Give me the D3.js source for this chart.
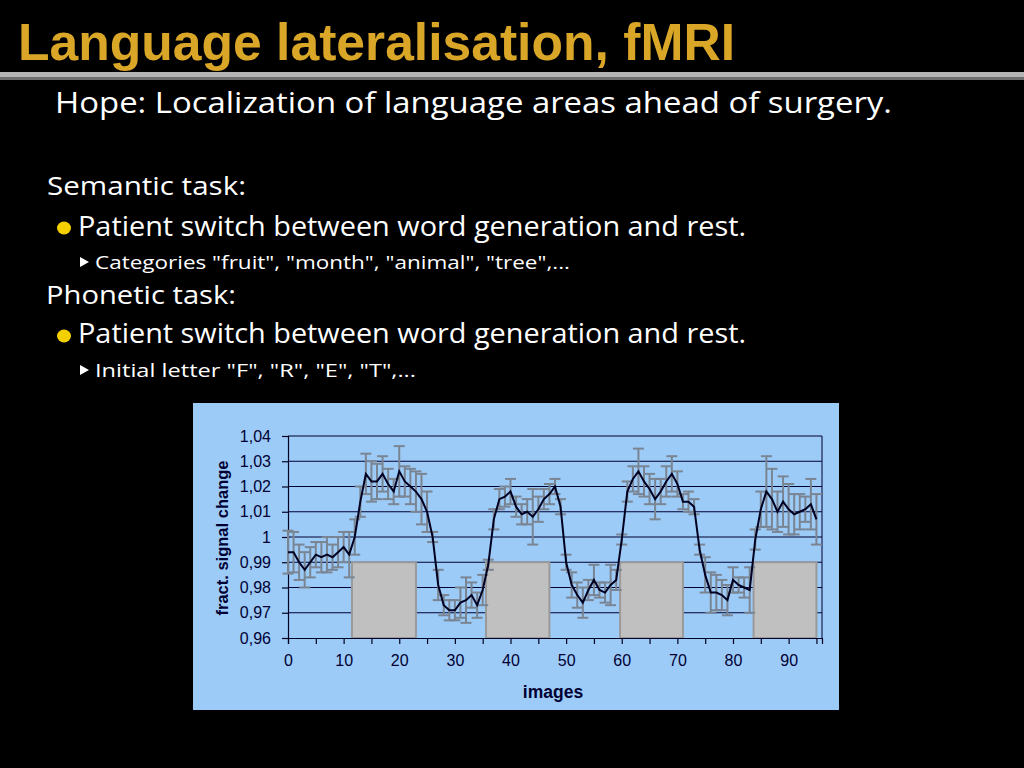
<!DOCTYPE html>
<html>
<head>
<meta charset="utf-8">
<script src="https://cdn.jsdelivr.net/npm/d3@7"></script>
<style>
  html, body { margin: 0; padding: 0; background: #000; }
  svg { display: block; }
</style>
</head>
<body>
<svg id="chart" width="1024" height="768"></svg>
<script>
// ---------------- data ----------------
const titleText = "Language lateralisation, fMRI";
const bodyLines = [
  "Hope: Localization of language areas ahead of surgery.",
  "Semantic task:",
  "Patient switch between word generation and rest.",
  "Categories \"fruit\", \"month\", \"animal\", \"tree\",...",
  "Phonetic task:",
  "Patient switch between word generation and rest.",
  "Initial letter \"F\", \"R\", \"E\", \"T\",..."
];

const signal = [
  0.994, 0.994, 0.990, 0.987, 0.990, 0.993, 0.992, 0.993, 0.992, 0.994,
  0.996, 0.993, 1.000, 1.014, 1.025, 1.022, 1.022, 1.025, 1.021, 1.018,
  1.026, 1.022, 1.020, 1.018, 1.015, 1.010, 1.000, 0.981, 0.973, 0.971,
  0.971, 0.974, 0.975, 0.977, 0.973, 0.979, 0.989, 1.007, 1.015, 1.016,
  1.018, 1.012, 1.009, 1.010, 1.008, 1.011, 1.015, 1.017, 1.020, 1.012,
  0.990, 0.981, 0.977, 0.974, 0.979, 0.983, 0.979, 0.978, 0.981, 0.983,
  0.999, 1.018, 1.023, 1.026, 1.022, 1.019, 1.015, 1.018, 1.022, 1.025,
  1.021, 1.014, 1.014, 1.012, 0.995, 0.985, 0.978, 0.978, 0.977, 0.975,
  0.983, 0.981, 0.980, 0.979, 0.999, 1.011, 1.018, 1.015, 1.010, 1.014,
  1.011, 1.009, 1.010, 1.011, 1.013, 1.007
];
const errors = [
  0.0085, 0.008, 0.007, 0.007, 0.006, 0.005, 0.006, 0.007, 0.005, 0.006,
  0.006, 0.009, 0.007, 0.006, 0.008, 0.008, 0.007, 0.007, 0.006, 0.005,
  0.010, 0.006, 0.007, 0.008, 0.010, 0.008, 0.002, 0.006, 0.004, 0.004,
  0.004, 0.006, 0.009, 0.005, 0.005, 0.006, 0.002, 0.004, 0.004, 0.004,
  0.005, 0.004, 0.004, 0.005, 0.011, 0.005, 0.004, 0.004, 0.003, 0.003,
  0.003, 0.005, 0.005, 0.006, 0.004, 0.006, 0.003, 0.004, 0.008, 0.004,
  0.002, 0.004, 0.005, 0.009, 0.006, 0.006, 0.008, 0.005, 0.006, 0.007,
  0.005, 0.003, 0.004, 0.003, 0.002, 0.007, 0.008, 0.007, 0.006, 0.006,
  0.005, 0.003, 0.004, 0.009, 0.004, 0.007, 0.014, 0.012, 0.008, 0.010,
  0.010, 0.008, 0.007, 0.005, 0.010, 0.010
];
const restStarts = [11.5, 35.6, 59.7, 83.7];
const restEnds   = [23, 47, 71, 95];
const restTop = 0.99;
const yTicks = [0.96, 0.97, 0.98, 0.99, 1.00, 1.01, 1.02, 1.03, 1.04];
const xTicks = [0,5,10,15,20,25,30,35,40,45,50,55,60,65,70,75,80,85,90,95];
const xLabelTicks = [0,10,20,30,40,50,60,70,80,90];
const yTitle = "fract. signal change";
const xTitle = "images";

// ---------------- drawing ----------------
const svg = d3.select("#chart");
const comic = "'Comic Sans MS', 'Open Sans', 'DejaVu Sans', sans-serif";
const arial = "'Liberation Sans', Arial, sans-serif";

// title
svg.append("text")
  .attr("x", 18).attr("y", 60)
  .attr("font-family", "'Liberation Sans Narrow', 'Liberation Sans', Arial, sans-serif")
  .attr("font-weight", "bold")
  .attr("font-size", 52)
  .attr("fill", "#d9a628")
  .attr("textLength", 717)
  .attr("lengthAdjust", "spacingAndGlyphs")
  .text(titleText);

// rule
svg.append("rect").attr("x", 0).attr("y", 72).attr("width", 1024).attr("height", 5).attr("fill", "#b4b4b4");
svg.append("rect").attr("x", 0).attr("y", 77).attr("width", 1024).attr("height", 3).attr("fill", "#6e6e6e");

// body text
const textSpecs = [
  {x: 55, y: 113, size: 30, len: 837},
  {x: 47, y: 195, size: 26, len: 199},
  {x: 78, y: 236, size: 27, len: 668},
  {x: 95, y: 269, size: 19, len: 475},
  {x: 46, y: 304, size: 26, len: 190},
  {x: 78, y: 343, size: 27, len: 668},
  {x: 95, y: 377, size: 19, len: 321}
];
textSpecs.forEach((s, i) => {
  svg.append("text")
    .attr("x", s.x).attr("y", s.y)
    .attr("font-family", comic)
    .attr("font-size", s.size)
    .attr("fill", "#ffffff")
    .attr("textLength", s.len)
    .attr("lengthAdjust", "spacingAndGlyphs")
    .text(bodyLines[i]);
});
// bullets
[228, 336].forEach(cy => {
  svg.append("ellipse").attr("cx", 64).attr("cy", cy).attr("rx", 7).attr("ry", 6.5).attr("fill", "#f5d000");
});
[262, 370].forEach(cy => {
  svg.append("path")
    .attr("d", `M80,${cy-5} L89,${cy} L80,${cy+5} Z`)
    .attr("fill", "#ffffff");
});

// chart area
svg.append("rect").attr("x", 193).attr("y", 403).attr("width", 646).attr("height", 307).attr("fill", "#9dcbf7");

const x = d3.scaleLinear().domain([0, 96]).range([288, 822]);
const y = d3.scaleLinear().domain([0.96, 1.04]).range([638, 436]);

const g = svg.append("g");

// gridlines
g.selectAll("line.grid").data(yTicks.filter(v => v > 0.96)).enter()
  .append("line")
  .attr("x1", x(0)).attr("x2", x(96))
  .attr("y1", d => y(d)).attr("y2", d => y(d))
  .attr("stroke", "#000033").attr("stroke-width", 1);

// rest blocks
g.selectAll("rect.rest").data(restStarts).enter()
  .append("rect")
  .attr("x", (d) => x(d))
  .attr("y", y(restTop))
  .attr("width", (d, i) => x(restEnds[i]) - x(d))
  .attr("height", y(0.96) - y(restTop))
  .attr("fill", "#c0c0c0")
  .attr("stroke", "#9a9a9a")
  .attr("stroke-width", 2);

// right border
g.append("line").attr("x1", x(96)).attr("x2", x(96)).attr("y1", y(1.04)).attr("y2", y(0.96))
  .attr("stroke", "#000033").attr("stroke-width", 1);

// axes
const fmt = v => Math.abs(v - 1) < 1e-9 ? "1" : d3.format(".2f")(v).replace(".", ",");
const yAxis = g.append("g").attr("transform", `translate(${x(0)},0)`)
  .call(d3.axisLeft(y).tickValues(yTicks).tickFormat(fmt).tickSize(6).tickPadding(11));
const xAxis = g.append("g").attr("transform", `translate(0,${y(0.96)})`)
  .call(d3.axisBottom(x).tickValues(xTicks)
    .tickFormat(d => xLabelTicks.includes(d) ? String(d) : "")
    .tickSize(6).tickPadding(11));
[yAxis, xAxis].forEach(a => {
  a.select(".domain").attr("stroke", "#000022").attr("stroke-width", 1.2);
  a.selectAll(".tick line").attr("stroke", "#000022").attr("stroke-width", 1.2);
  a.selectAll(".tick text").attr("font-family", arial).attr("font-size", 16).attr("fill", "#000033");
});

// error bars
const eb = g.append("g").attr("stroke", "#7a8593").attr("stroke-width", 2);
signal.forEach((v, i) => {
  const e = errors[i];
  eb.append("line").attr("x1", x(i)).attr("x2", x(i)).attr("y1", y(v - e)).attr("y2", y(v + e));
  eb.append("line").attr("x1", x(i) - 5.5).attr("x2", x(i) + 5.5).attr("y1", y(v - e)).attr("y2", y(v - e));
  eb.append("line").attr("x1", x(i) - 5.5).attr("x2", x(i) + 5.5).attr("y1", y(v + e)).attr("y2", y(v + e));
});

// data line
g.append("path")
  .datum(signal)
  .attr("d", d3.line().x((d, i) => x(i)).y(d => y(d)))
  .attr("fill", "none")
  .attr("stroke", "#000020")
  .attr("stroke-width", 2);

// axis titles
svg.append("text")
  .attr("transform", `translate(228,538) rotate(-90)`)
  .attr("text-anchor", "middle")
  .attr("font-family", arial).attr("font-weight", "bold").attr("font-size", 16.5)
  .attr("fill", "#000033")
  .text(yTitle);
svg.append("text")
  .attr("x", 553).attr("y", 698)
  .attr("text-anchor", "middle")
  .attr("font-family", arial).attr("font-weight", "bold").attr("font-size", 17.5)
  .attr("fill", "#000033")
  .text(xTitle);
</script>
</body>
</html>
